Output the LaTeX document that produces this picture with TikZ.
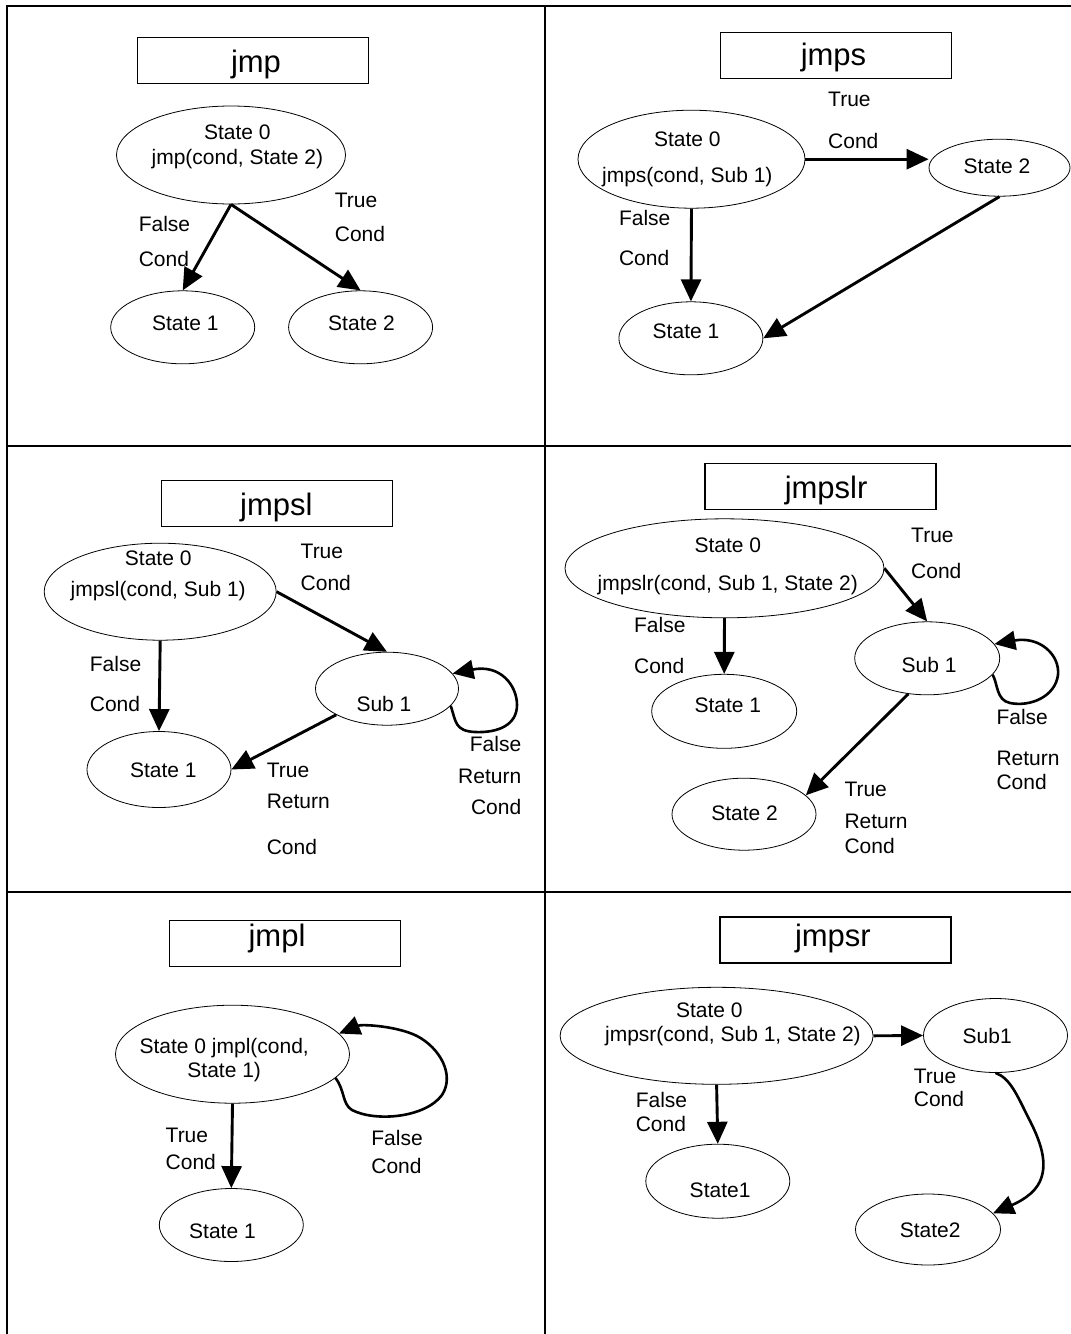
\documentclass[tikz,border=0pt]{standalone}
\usepackage{fontspec}
\setmainfont{Liberation Sans}
\usetikzlibrary{arrows.meta,shapes.geometric}
\begin{document}
\begin{tikzpicture}[x=1pt,y=-1pt,
  grid/.style={line width=2pt},
  ell/.style={draw, ellipse, line width=0.8pt, inner sep=0pt},
  tbox/.style={draw, rectangle, line width=1.3pt, inner sep=0pt, minimum width=231pt, minimum height=46pt},
  ttl/.style={font=\fontsize{31}{36}\selectfont, inner sep=0pt},
  txt/.style={font=\fontsize{21}{#1}\selectfont, inner sep=0pt, align=center},
  txt/.default=25,
  lbl/.style={font=\fontsize{21}{#1}\selectfont, inner sep=0pt, align=left, anchor=west},
  arr/.style={line width=2.9pt, -{Triangle[length=22pt,width=20pt]}},
  selfarc/.style={line width=2.6pt, -{Triangle[length=21pt,width=19pt]}}]
\useasboundingbox (0,0) rectangle (1071,1334);
% table
\draw[grid] (7,1334) -- (7,6) -- (1071,6);
\draw[grid] (545,6) -- (545,1334);
\draw[grid] (7,446) -- (1071,446);
\draw[grid] (7,892) -- (1071,892);

% ---------- panel 1: jmp
\node[tbox] (t1) at (252.9,60.8) {};
\node[ttl] (t1t) at (256,64) {jmp};
\node[ell, minimum width=229pt, minimum height=98pt] (p1s0) at (231,155) {};
\node[txt=25.3] (p1s0t) at (237.4,146.7) {State 0\\jmp(cond, State 2)};
\node[ell, minimum width=144pt, minimum height=73pt] (p1s1) at (182.7,327.3) {};
\node[txt] (p1s1t) at (185.3,323.3) {State 1};
\node[ell, minimum width=144pt, minimum height=73pt] (p1s2) at (360.6,327.3) {};
\node[txt] (p1s2t) at (361.5,323.3) {State 2};
\draw[arr] (p1s0.south) -- (p1s1.north);
\draw[arr] (p1s0.south) -- (p1s2.north);
\node[lbl=35] (p1l1) at (138.6,241.5) {False\\Cond};
\node[lbl=34.3] (p1l2) at (334.7,217.2) {True\\Cond};

% ---------- panel 2: jmps
\node[tbox] (t2) at (836,55.8) {};
\node[ttl] (t2t) at (833.5,57) {jmps};
\node[ell, minimum width=227pt, minimum height=98pt] (p2s0) at (691.5,159.2) {};
\node[txt=36] (p2s0t) at (687.3,159.7) {State 0\\jmps(cond, Sub 1)};
\node[ell, minimum width=141pt, minimum height=57pt] (p2s2) at (999.5,167.7) {};
\node[txt] (p2s2t) at (997,166.7) {State 2};
\node[ell, minimum width=144pt, minimum height=73pt] (p2s1) at (690.9,338.3) {};
\node[txt] (p2s1t) at (686,331) {State 1};
\draw[arr] (p2s0.east) -- (p2s0.east -| p2s2.west);
\draw[arr] (p2s0.south) -- (p2s1.north);
\draw[arr] (p2s2.south) -- (p2s1.east);
\node[lbl=42.4] (p2l1) at (828,120.5) {True\\Cond};
\node[lbl=40] (p2l2) at (618.8,238.3) {False\\Cond};

% ---------- panel 3: jmpsl
\node[tbox] (t3) at (277.2,503.3) {};
\node[ttl] (t3t) at (276.3,507) {jmpsl};
\node[ell, minimum width=232pt, minimum height=97pt] (p3s0) at (160.2,591.7) {};
\node[txt=31.7] (p3s0t) at (158.2,575.8) {State 0\\jmpsl(cond, Sub 1)};
\node[ell, minimum width=143pt, minimum height=73pt] (p3sub) at (387,688.7) {};
\node[txt] (p3subt) at (384,704.3) {Sub 1};
\node[ell, minimum width=144pt, minimum height=76pt] (p3s1) at (159,769.5) {};
\node[txt] (p3s1t) at (163.4,770) {State 1};
\draw[arr] (p3s0.east) -- (p3sub.north);
\draw[arr] (p3s0.south) -- (p3s1.north);
\draw[arr] (p3sub.south west) -- (p3s1.east);
\draw[selfarc] (p3sub.-15) .. controls (456,722) and (455,731) .. (475,732)
  .. controls (498,733) and (517,725) .. (517,705)
  .. controls (517,685) and (500,664) .. (p3sub.13);
\node[lbl=31.6] (p3l1) at (300.5,567.5) {True\\Cond};
\node[lbl=40.3] (p3l2) at (89.7,684.2) {False\\Cond};
\node[lbl=31.2, anchor=east, align=right] (p3l3) at (521.4,775.5) {False\\Return\\Cond};
\node[lbl=31] (p3l4) at (266.6,808.7) {True\\Return\\[15.3pt]Cond};

% ---------- panel 4: jmpslr
\node[tbox] (t4) at (820.5,486.7) {};
\node[ttl] (t4t) at (826.1,490) {jmpslr};
\node[ell, minimum width=319pt, minimum height=99pt] (p4s0) at (724.5,568.3) {};
\node[txt=37.3] (p4s0t) at (727.8,566.4) {State 0\\jmpslr(cond, Sub 1, State 2)};
\node[ell, minimum width=145pt, minimum height=73pt] (p4sub) at (927.2,658.3) {};
\node[txt] (p4subt) at (929.1,665) {Sub 1};
\node[ell, minimum width=145pt, minimum height=74pt] (p4s1) at (724.2,711.3) {};
\node[txt] (p4s1t) at (727.8,705) {State 1};
\node[ell, minimum width=144pt, minimum height=72pt] (p4s2) at (744,814.2) {};
\node[txt] (p4s2t) at (744.6,813.3) {State 2};
\draw[arr] (p4s0.east) -- (p4sub.north);
\draw[arr] (p4s0.south) -- (p4s1.north);
\draw[arr] (p4sub.-118) -- (p4s2.17);
\draw[selfarc] (p4sub.-14) .. controls (998,684) and (996,700) .. (1010,703)
  .. controls (1030,707) and (1055,697) .. (1058,675)
  .. controls (1060,655) and (1040,636) .. (p4sub.12);
\node[lbl=36] (p4l1) at (911,553.7) {True\\Cond};
\node[lbl=40.7] (p4l2) at (633.9,645.4) {False\\Cond};
\node[lbl=25] (p4l3) at (844.3,818) {True\\[7.4pt]Return\\Cond};
\node[lbl=23.4] (p4l4) at (996.3,749.2) {False\\[18.2pt]Return\\Cond};

% ---------- panel 5: jmpl
\node[tbox] (t5) at (284.9,943.7) {};
\node[ttl] (t5t) at (277,938.3) {jmpl};
\node[ell, minimum width=234pt, minimum height=98pt] (p5s0) at (232.5,1054.2) {};
\node[txt=23.4] (p5s0t) at (224.2,1060) {State 0 jmpl(cond,\\State 1)};
\node[ell, minimum width=144pt, minimum height=73pt] (p5s1) at (231.3,1225) {};
\node[txt] (p5s1t) at (222.5,1231.7) {State 1};
\draw[arr] (p5s0.south) -- (p5s1.north);
\draw[selfarc] (p5s0.-13) .. controls (345,1090) and (342,1104) .. (352,1110)
  .. controls (375,1122) and (425,1118) .. (442,1095)
  .. controls (455,1075) and (440,1048) .. (417,1036)
  .. controls (397,1026) and (362,1024) .. (p5s0.11);
\node[lbl=27.7] (p5l1) at (165.5,1148.9) {True\\Cond};
\node[lbl=27.7] (p5l2) at (371.2,1152.2) {False\\Cond};

% ---------- panel 6: jmpsr
\node[tbox] (t6) at (835.6,940) {};
\node[ttl] (t6t) at (832.9,938.3) {jmpsr};
\node[ell, minimum width=313pt, minimum height=97pt] (p6s0) at (716.6,1035.8) {};
\node[txt] (p6s0a) at (709.4,1010.7) {State 0};
\node[txt] (p6s0b) at (732.9,1035.7) {jmpsr(cond, Sub 1, State 2)};
\node[ell, minimum width=144pt, minimum height=74pt] (p6sub) at (995.5,1035.5) {};
\node[txt] (p6subt) at (987.2,1035.7) {Sub1};
\node[ell, minimum width=144pt, minimum height=74pt] (p6s1) at (717.8,1181.2) {};
\node[txt] (p6s1t) at (720.1,1190) {State1};
\node[ell, minimum width=145pt, minimum height=71pt] (p6s2) at (928,1229.5) {};
\node[txt] (p6s2t) at (930.2,1230) {State2};
\draw[arr] (p6s0.east) -- (p6sub.west);
\draw[arr] (p6s0.south) -- (p6s1.north);
\draw[selfarc] (p6sub.south) .. controls (1010,1078) and (1017,1095) .. (1028,1117)
  .. controls (1040,1140) and (1050,1165) .. (1038,1185)
  .. controls (1030,1198) and (1012,1205) .. (p6s2.14);
\node[lbl=23.3] (p6l1) at (913.7,1087.7) {True\\Cond};
\node[lbl=24] (p6l2) at (635.6,1112) {False\\Cond};
\end{tikzpicture}
\end{document}
